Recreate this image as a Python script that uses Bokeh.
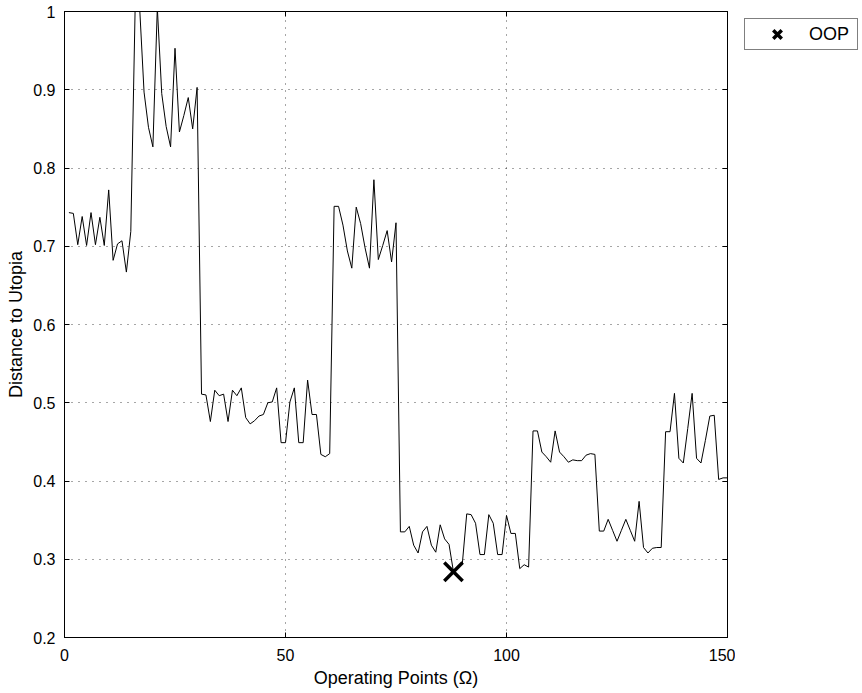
from bokeh.plotting import figure
from bokeh.layouts import row
from bokeh.models import Range1d, LinearAxis, FixedTicker, Legend, LegendItem, CustomJSTickFormatter, Grid
from bokeh.embed import file_html
from bokeh.resources import INLINE

op_points = list(range(1, 151))
distance = [
    0.743, 0.742, 0.702, 0.738, 0.701, 0.743, 0.702, 0.737, 0.701, 0.772,
    0.682, 0.703, 0.707, 0.667, 0.719, 1.010, 1.005, 0.897, 0.852, 0.827,
    1.005, 0.895, 0.853, 0.827, 0.953, 0.846, 0.867, 0.890, 0.850, 0.903,
    0.511, 0.510, 0.476, 0.516, 0.509, 0.511, 0.476, 0.516, 0.509, 0.519,
    0.481, 0.473, 0.477, 0.483, 0.485, 0.500, 0.501, 0.519, 0.449, 0.449,
    0.501, 0.519, 0.449, 0.449, 0.529, 0.485, 0.485, 0.434, 0.431, 0.435,
    0.751, 0.751, 0.727, 0.694, 0.672, 0.750, 0.729, 0.698, 0.672, 0.785,
    0.683, 0.701, 0.720, 0.680, 0.730, 0.335, 0.335, 0.342, 0.318, 0.308,
    0.335, 0.342, 0.318, 0.309, 0.344, 0.326, 0.319, 0.284, 0.290, 0.294,
    0.358, 0.357, 0.346, 0.306, 0.306, 0.357, 0.346, 0.306, 0.306, 0.356,
    0.333, 0.333, 0.288, 0.293, 0.290, 0.464, 0.464, 0.437, 0.431, 0.424,
    0.464, 0.437, 0.431, 0.424, 0.427, 0.426, 0.426, 0.433, 0.435, 0.434,
    0.336, 0.336, 0.351, 0.337, 0.323, 0.337, 0.351, 0.337, 0.323, 0.374,
    0.315, 0.308, 0.314, 0.315, 0.315, 0.463, 0.463, 0.512, 0.429, 0.423,
    0.467, 0.512, 0.429, 0.423, 0.452, 0.483, 0.484, 0.402, 0.404, 0.404,
]
oop_x = [88]
oop_y = [0.284]
oop_label = "OOP"

x_ticks = [0, 50, 100, 150]
y_ticks = [0.2, 0.3, 0.4, 0.5, 0.6, 0.7, 0.8, 0.9, 1.0]

FONT = "Liberation Sans"
H = 690

p = figure(width=735, height=H, output_backend="svg", toolbar_location=None,
           x_range=Range1d(0, 150), y_range=Range1d(0.2, 1.0),
           min_border_left=64, min_border_right=8, min_border_top=11,
           min_border_bottom=49, x_axis_location=None, y_axis_location=None)
p.outline_line_color = "black"
p.outline_line_width = 1
p.background_fill_color = "white"
p.border_fill_color = "white"

fmt = CustomJSTickFormatter(code="return String(Math.round(tick*10)/10)")

def style_axis(ax, ticks, show_labels):
    ax.ticker = FixedTicker(ticks=ticks)
    ax.major_tick_in = 5
    ax.major_tick_out = 0
    ax.minor_tick_in = 0
    ax.minor_tick_out = 0
    ax.axis_line_color = "black"
    ax.major_tick_line_color = "black"
    ax.major_label_text_font = FONT
    ax.major_label_text_color = "black"
    ax.axis_label_text_font = FONT
    ax.axis_label_text_font_style = "normal"
    ax.axis_label_text_color = "black"
    if show_labels:
        ax.major_label_text_font_size = "16px"
        ax.axis_label_text_font_size = "18px"
    else:
        ax.major_label_text_font_size = "0px"
        ax.major_label_standoff = 0

xb = LinearAxis(axis_label="Operating Points (Ω)")
style_axis(xb, x_ticks, True)
xb.major_label_standoff = 11
xb.axis_label_standoff = 4
p.add_layout(xb, "below")

yl = LinearAxis(axis_label="Distance to Utopia", formatter=fmt)
style_axis(yl, y_ticks, True)
yl.major_label_standoff = 9
yl.axis_label_standoff = 4
p.add_layout(yl, "left")

xt = LinearAxis()
style_axis(xt, x_ticks, False)
p.add_layout(xt, "above")
yr = LinearAxis()
style_axis(yr, y_ticks, False)
p.add_layout(yr, "right")

p.xgrid.visible = False
p.ygrid.visible = False
gx = Grid(dimension=0, ticker=FixedTicker(ticks=x_ticks), grid_line_color="black",
          grid_line_dash="1 6", grid_line_width=1, grid_line_alpha=0.7)
gy = Grid(dimension=1, ticker=FixedTicker(ticks=y_ticks), grid_line_color="black",
          grid_line_dash="1 6", grid_line_width=1, grid_line_alpha=0.7)
p.add_layout(gx)
p.add_layout(gy)

p.line(op_points, distance, line_color="black", line_width=1)
p.scatter(oop_x, oop_y, marker="x", size=26, line_width=3.5, line_color="black")

# legend panel to the right of the axes box
q = figure(width=125, height=H, output_backend="svg", toolbar_location=None,
           x_range=Range1d(0, 1), y_range=Range1d(0, 1),
           min_border_left=2, min_border_right=0, min_border_top=0,
           min_border_bottom=0, x_axis_location=None, y_axis_location=None)
q.outline_line_color = None
q.xgrid.visible = False
q.ygrid.visible = False
q.background_fill_color = "white"
q.border_fill_color = "white"
oop_key = q.scatter(oop_x, oop_y, marker="x", size=26, line_width=3.5,
                    line_color="black", visible=False)

legend = Legend(items=[LegendItem(label=oop_label, renderers=[oop_key])],
                location="top_left", orientation="vertical")
legend.border_line_color = "black"
legend.border_line_width = 1
legend.background_fill_color = "white"
legend.background_fill_alpha = 1
legend.inactive_fill_alpha = 0
legend.label_text_font = FONT
legend.label_text_font_size = "18px"
legend.label_text_color = "black"
legend.glyph_width = 64
legend.glyph_height = 30
legend.padding = 0
legend.margin = 7
legend.spacing = 0
legend.label_standoff = 0
legend.label_height = 24
legend.label_width = 48
q.add_layout(legend, "center")

layout = row(p, q, spacing=0)
open("out.html", "w").write(file_html(layout, INLINE))
